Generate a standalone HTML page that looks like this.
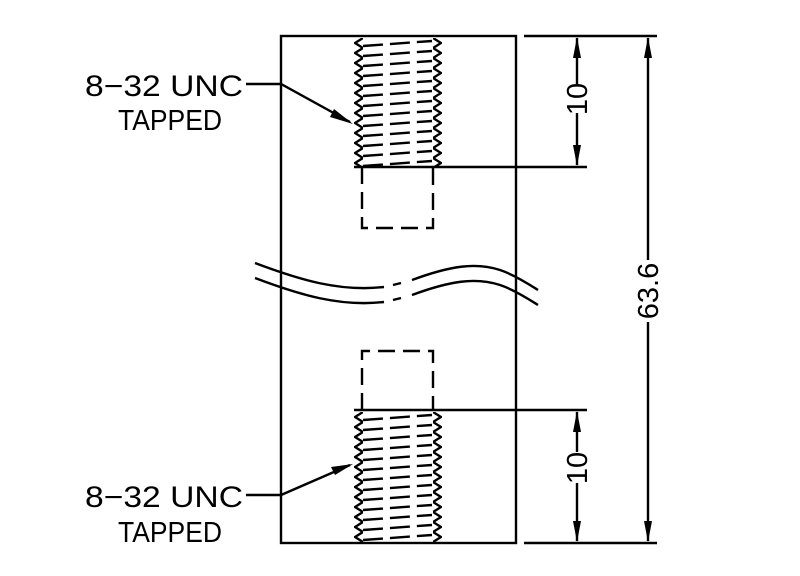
<!DOCTYPE html>
<html><head><meta charset="utf-8"><style>
html,body{margin:0;padding:0;background:#fff;}
svg{display:block;}
text{font-family:"Liberation Sans",sans-serif;fill:#000;}
</style></head><body>
<svg width="800" height="576" viewBox="0 0 800 576" xmlns="http://www.w3.org/2000/svg">
<defs>
<pattern id="zl" x="354" y="38" width="9" height="10" patternUnits="userSpaceOnUse">
<path d="M9,0 L1,5 L9,10" fill="none" stroke="#000" stroke-width="2.4"/></pattern>
<pattern id="zr" x="433" y="38" width="9" height="10" patternUnits="userSpaceOnUse">
<path d="M0,0 L8,5 L0,10" fill="none" stroke="#000" stroke-width="2.4"/></pattern>
<pattern id="h" x="362" y="38" width="71" height="10" patternUnits="userSpaceOnUse">
<line x1="1" y1="8" x2="70" y2="3" stroke="#000" stroke-width="2.4" stroke-dasharray="20,7"/></pattern>
<pattern id="zl2" x="354" y="412" width="9" height="10" patternUnits="userSpaceOnUse">
<path d="M9,0 L1,5 L9,10" fill="none" stroke="#000" stroke-width="2.4"/></pattern>
<pattern id="zr2" x="433" y="412" width="9" height="10" patternUnits="userSpaceOnUse">
<path d="M0,0 L8,5 L0,10" fill="none" stroke="#000" stroke-width="2.4"/></pattern>
<pattern id="h2" x="362" y="412" width="71" height="10" patternUnits="userSpaceOnUse">
<line x1="1" y1="8" x2="70" y2="3" stroke="#000" stroke-width="2.4" stroke-dasharray="20,7"/></pattern>
</defs>
<g stroke="#000" stroke-width="2.4" fill="none">
<rect x="281" y="36" width="235" height="507"/>
<path d="M255,263 C300,280 340,292 384,287"/>
<path d="M255,278 C300,295 340,307 384,302"/>
<path d="M393,285 L401,283 M393,300 L401,298"/>
<path d="M412,280 C450,266 475,262 500,270 C515,275 530,285 538,290"/>
<path d="M412,295 C450,281 475,277 500,285 C515,290 530,300 538,305"/>
</g>
<rect x="354" y="38" width="9" height="128" fill="url(#zl)"/>
<rect x="433" y="38" width="9" height="128" fill="url(#zr)"/>
<rect x="362" y="38" width="71" height="128" fill="url(#h)"/>
<rect x="354" y="412" width="9" height="130" fill="url(#zl2)"/>
<rect x="433" y="412" width="9" height="130" fill="url(#zr2)"/>
<rect x="362" y="412" width="71" height="130" fill="url(#h2)"/>
<g stroke="#000" stroke-width="2.4" fill="none">
<line x1="354" y1="167" x2="442" y2="167"/>
<line x1="354" y1="410" x2="442" y2="410"/>
<path d="M362,167 V228 H433 V167" stroke-dasharray="17,8"/>
<path d="M362,410 V351 H433 V410" stroke-dasharray="17,8"/>
<line x1="442" y1="167" x2="587" y2="167"/>
<line x1="442" y1="410" x2="587" y2="410"/>
<line x1="524" y1="36" x2="657" y2="36"/>
<line x1="524" y1="543" x2="657" y2="543"/>
<line x1="577" y1="38" x2="577" y2="84"/>
<line x1="577" y1="113" x2="577" y2="165"/>
<line x1="577" y1="412" x2="577" y2="452"/>
<line x1="577" y1="483" x2="577" y2="541"/>
<line x1="648" y1="38" x2="648" y2="260"/>
<line x1="648" y1="322" x2="648" y2="541"/>
<path d="M246,84 H281 L350,122"/>
<path d="M246,495 H281 L350,465"/>
</g>
<g fill="#000">
<path d="M577,37 L573,58 L581,58Z"/><path d="M577,166 L573,145 L581,145Z"/>
<path d="M577,411 L573,432 L581,432Z"/><path d="M577,542 L573,521 L581,521Z"/>
<path d="M648,37 L644,58 L652,58Z"/><path d="M648,542 L644,521 L652,521Z"/>
<path d="M353,124 L334,109 L330,117Z"/><path d="M353,464 L331,467 L335,475Z"/>
</g>
<text x="85" y="96" font-size="30" textLength="158" lengthAdjust="spacingAndGlyphs">8−32 UNC</text>
<text x="118" y="130" font-size="29" textLength="104" lengthAdjust="spacingAndGlyphs">TAPPED</text>
<text x="85" y="507" font-size="30" textLength="158" lengthAdjust="spacingAndGlyphs">8−32 UNC</text>
<text x="118" y="542" font-size="29" textLength="104" lengthAdjust="spacingAndGlyphs">TAPPED</text>
<text transform="translate(587,99) rotate(-90)" font-size="29" text-anchor="middle">10</text>
<text transform="translate(587,468) rotate(-90)" font-size="29" text-anchor="middle">10</text>
<text transform="translate(658,291) rotate(-90)" font-size="29" text-anchor="middle">63.6</text>
</svg>
</body></html>
